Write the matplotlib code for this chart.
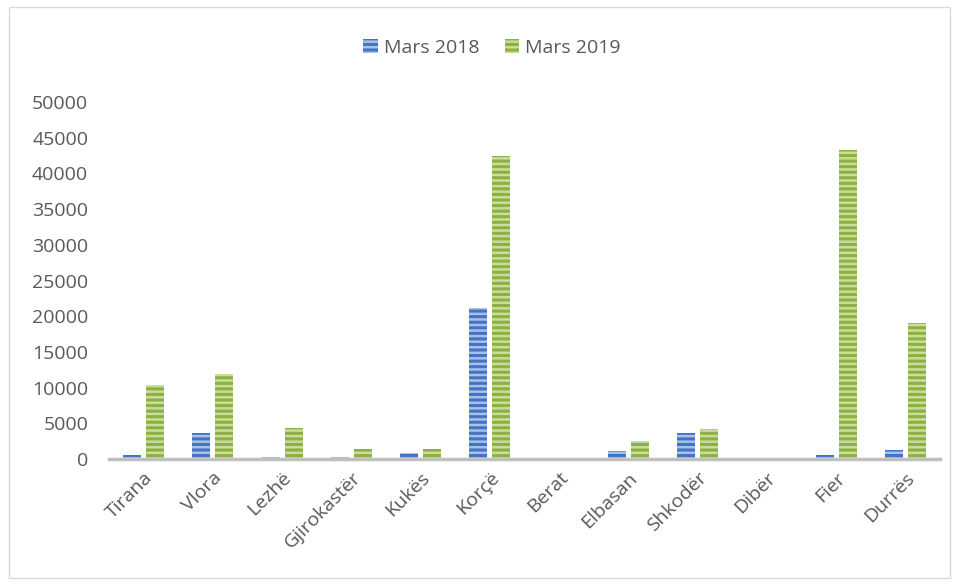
import numpy as np
import matplotlib.pyplot as plt
import matplotlib.patches as mpatches

plt.rcParams['font.family'] = ['Open Sans', 'DejaVu Sans']
plt.rcParams['hatch.linewidth'] = 1.8

cities = ['Tirana', 'Vlora', 'Lezhë', 'Gjirokastër', 'Kukës', 'Korçë',
          'Berat', 'Elbasan', 'Shkodër', 'Dibër', 'Fier', 'Durrës']
mars_2018 = [500, 3600, 300, 300, 800, 21100, 50, 1100, 3600, 50, 500, 1200]
mars_2019 = [10400, 11900, 4400, 1400, 1400, 42500, 150, 2500, 4200, 150, 43300, 19000]
series_names = ['Mars 2018', 'Mars 2019']

fig = plt.figure(figsize=(9.59, 5.85), dpi=100)
ax = fig.add_axes([0.1137, 0.2154, 0.8665, 0.6102])

# light frame around the whole chart
fig.patches.append(mpatches.Rectangle((0.009, 0.012), 0.982, 0.976, transform=fig.transFigure,
                                      fill=False, edgecolor='#D9D9D9', linewidth=1))

x = np.arange(len(cities))
w = 0.26
gap = 0.035
ax.bar(x - w / 2 - gap, mars_2018, w, color='#4472C4', edgecolor='#A9C1E8',
       hatch='---', linewidth=0, label=series_names[0])
ax.bar(x + w / 2 + gap, mars_2019, w, color='#8DB040', edgecolor='#C9DD9E',
       hatch='---', linewidth=0, label=series_names[1])

ax.set_xlim(-0.5, len(cities) - 0.5)
ax.set_ylim(0, 50000)
ax.set_yticks(np.arange(0, 50001, 5000))
for s in ['top', 'right', 'left']:
    ax.spines[s].set_visible(False)
ax.spines['bottom'].set_color('#BFBFBF')
ax.spines['bottom'].set_linewidth(2.5)
ax.tick_params(axis='both', length=0, labelsize=14, colors='#595959')
ax.tick_params(axis='y', pad=15)
ax.set_xticks(x)
ax.set_xticklabels(cities, rotation=45, ha='right', rotation_mode='anchor')
ax.tick_params(axis='x', pad=7)

ax.legend(loc='center', bbox_to_anchor=(0.513, 0.918), bbox_transform=fig.transFigure,
          ncol=2, frameon=False, fontsize=14, labelcolor='#595959',
          handlelength=0.75, handleheight=0.75, handletextpad=0.3, columnspacing=1.3)

fig.savefig('out.png', dpi=100)
